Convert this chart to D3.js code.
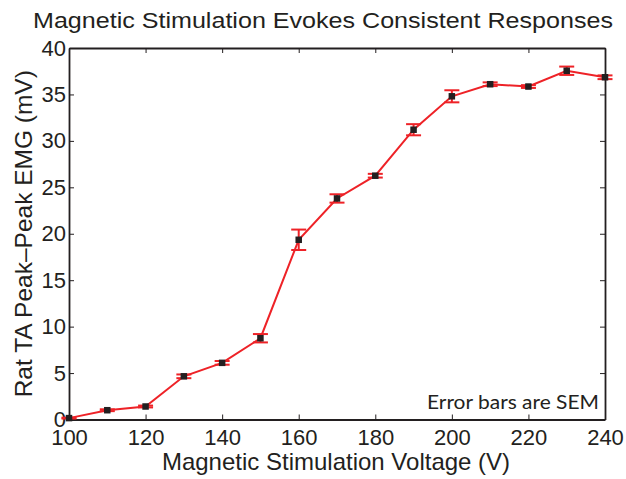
<!DOCTYPE html>
<html>
<head>
<meta charset="utf-8">
<script src="https://cdn.jsdelivr.net/npm/d3@7"></script>
<style>
  body { margin: 0; background: #fff; }
  text { font-family: "Liberation Sans", Arial, sans-serif; fill: #231f20; }
</style>
</head>
<body>
<div id="container"></div>
<script>
/* DATA */
const voltages = [100, 110, 120, 130, 140, 150, 160, 170, 180, 190, 200, 210, 220, 230, 240];
const emgMeans = [0.15, 1.0, 1.4, 4.65, 6.1, 8.75, 19.35, 23.8, 26.25, 31.2, 34.8, 36.1, 35.85, 37.55, 36.85];
const emgSem   = [0.05, 0.1, 0.1, 0.2, 0.2, 0.45, 1.1, 0.45, 0.2, 0.6, 0.65, 0.2, 0.15, 0.45, 0.2];
const xTicks = [100, 120, 140, 160, 180, 200, 220, 240];
const yTicks = [0, 5, 10, 15, 20, 25, 30, 35, 40];

/* CONSTANTS */
const width = 626;
const height = 479;
const margin = { top: 48, right: 21, bottom: 59.5, left: 69 };
const plotW = width - margin.left - margin.right;
const plotH = height - margin.top - margin.bottom;

const data = voltages.map((v, i) => ({ v, mean: emgMeans[i], sem: emgSem[i] }));

/* SCALES */
const xScale = d3.scaleLinear().domain([100, 240]).range([0, plotW]);
const yScale = d3.scaleLinear().domain([0, 40]).range([plotH, 0]);

const svg = d3.select("#container")
  .append("svg")
  .attr("width", width)
  .attr("height", height);

const g = svg.append("g")
  .attr("transform", `translate(${margin.left},${margin.top})`);

// box with inward ticks on all sides (matlab style)
const tickLen = 5;
const axisColor = "#231f20";

g.append("g")
  .attr("transform", `translate(0,${plotH})`)
  .call(d3.axisBottom(xScale).tickValues(xTicks).tickSizeInner(-tickLen).tickSizeOuter(0).tickPadding(10));
g.append("g")
  .call(d3.axisTop(xScale).tickValues(xTicks).tickSizeInner(-tickLen).tickSizeOuter(0).tickFormat(""));
g.append("g")
  .call(d3.axisLeft(yScale).tickValues(yTicks).tickSizeInner(-tickLen).tickSizeOuter(0).tickPadding(3));
g.append("g")
  .attr("transform", `translate(${plotW},0)`)
  .call(d3.axisRight(yScale).tickValues(yTicks).tickSizeInner(-tickLen).tickSizeOuter(0).tickFormat(""));

g.selectAll(".domain").attr("stroke", axisColor).attr("stroke-width", 1.8);
g.selectAll(".tick line").attr("stroke", axisColor).attr("stroke-width", 1);
g.selectAll(".tick text")
  .style("font-size", "22px")
  .style("font-family", "'Liberation Sans', Arial, sans-serif")
  .attr("fill", axisColor);

// line
const line = d3.line()
  .x(d => xScale(d.v))
  .y(d => yScale(d.mean));

g.append("path")
  .datum(data)
  .attr("fill", "none")
  .attr("stroke", "#ee2227")
  .attr("stroke-width", 2)
  .attr("d", line);

// error bars
const capW = 7.5;
const errs = g.selectAll("g.err")
  .data(data)
  .join("g")
  .attr("class", "err")
  .attr("stroke", "#ee2227")
  .attr("stroke-width", 2);

errs.append("line")
  .attr("x1", d => xScale(d.v)).attr("x2", d => xScale(d.v))
  .attr("y1", d => yScale(d.mean - d.sem)).attr("y2", d => yScale(d.mean + d.sem));
errs.append("line")
  .attr("x1", d => xScale(d.v) - capW).attr("x2", d => xScale(d.v) + capW)
  .attr("y1", d => yScale(d.mean + d.sem)).attr("y2", d => yScale(d.mean + d.sem));
errs.append("line")
  .attr("x1", d => xScale(d.v) - capW).attr("x2", d => xScale(d.v) + capW)
  .attr("y1", d => yScale(d.mean - d.sem)).attr("y2", d => yScale(d.mean - d.sem));

// markers
const mk = 6.5;
g.selectAll("rect.marker")
  .data(data)
  .join("rect")
  .attr("class", "marker")
  .attr("x", d => xScale(d.v) - mk / 2)
  .attr("y", d => yScale(d.mean) - mk / 2)
  .attr("width", mk)
  .attr("height", mk)
  .attr("fill", "#231f20");

// note
g.append("text")
  .attr("x", plotW - 6)
  .attr("y", plotH - 10.5)
  .attr("text-anchor", "end")
  .attr("textLength", 172)
  .attr("lengthAdjust", "spacingAndGlyphs")
  .style("font-family", "Lato, 'Open Sans', sans-serif")
  .style("font-size", "18.5px")
  .text("Error bars are SEM");

// titles
svg.append("text")
  .attr("x", 323)
  .attr("y", 28)
  .attr("text-anchor", "middle")
  .attr("textLength", 580)
  .attr("lengthAdjust", "spacingAndGlyphs")
  .style("font-size", "22px")
  .text("Magnetic Stimulation Evokes Consistent Responses");

svg.append("text")
  .attr("x", 336)
  .attr("y", 470)
  .attr("text-anchor", "middle")
  .style("font-size", "24px")
  .text("Magnetic Stimulation Voltage (V)");

svg.append("text")
  .attr("transform", `translate(32,${margin.top + plotH / 2}) rotate(-90)`)
  .attr("text-anchor", "middle")
  .style("font-size", "24.5px")
  .text("Rat TA Peak\u2013Peak EMG (mV)");
</script>
</body>
</html>
